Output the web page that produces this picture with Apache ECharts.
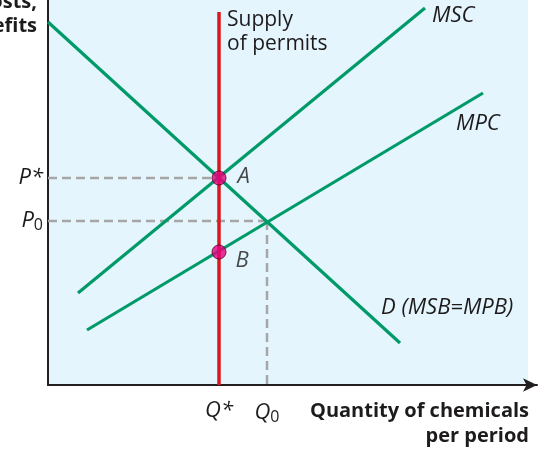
<!DOCTYPE html>
<html>
<head>
<meta charset="utf-8">
<script src="https://cdn.jsdelivr.net/npm/echarts@6/dist/echarts.min.js"></script>
<style>
  html, body { margin: 0; padding: 0; background: #fff; }
  #chart { width: 548px; height: 449px; }
</style>
</head>
<body>
<div id="chart"></div>
<script>
// quantity (x) and cost/benefit (y), arbitrary units
var demand = [[0, 363], [352, 42]];     // D (MSB=MPB)
var msc = [[30, 92], [377, 377]];       // MSC
var mpc = [[39, 55], [435, 292]];       // MPC
var qStar = 171, q0 = 219;
var pStar = 207, p0 = 164, pB = 133;
var supplyTop = 373;
var pointA = [[qStar, pStar]];
var pointB = [[qStar, pB]];
var xTicks = [qStar, q0];
var yTicks = [p0, pStar];

var green = "#009a68";
var red = "#d7191f";
var grey = "#a6a6a6";
var ink = "#1d1b1c";
var font = "'Open Sans', 'Noto Sans', sans-serif";

var myChart = echarts.init(document.getElementById("chart"));

function line(name, data, color, width, type, z) {
	return {
		name: name,
		type: "line",
		data: data,
		symbol: "none",
		z: z,
		silent: true,
		lineStyle: { color: color, width: width, type: type || "solid" }
	};
}

var tickRich = {
	i: { fontSize: 22, fontStyle: "italic", color: ink, fontFamily: font },
	s: { fontSize: 16, color: ink, fontFamily: font, padding: [9, 0, 0, 0] }
};

function label(txt, dx, dy) {
	return {
		show: true, position: "right", distance: 9, offset: [dx, dy], formatter: txt,
		fontSize: 22, fontStyle: "italic", color: ink, fontFamily: font
	};
}

myChart.setOption({
	animation: false,
	textStyle: { fontFamily: font },
	grid: { left: 48, right: 11, top: 0, bottom: 64 },
	graphic: [
		{
			type: "rect",
			z: -10,
			shape: { x: 48, y: 0, width: 480, height: 385 },
			style: { fill: "#e4f5fd" }
		},
		{
			type: "text", x: 227, y: 8, z: 10,
			style: { text: "Supply\nof permits", font: "21px " + font, fill: ink, lineHeight: 24 }
		},
		{
			type: "text", x: 529, y: 399, z: 10,
			style: { text: "Quantity of chemicals\nper period", font: "bold 20px " + font, fill: ink, align: "right", lineHeight: 25 }
		},
		{
			type: "text", x: 37, y: -10, z: 10,
			style: { text: "Costs,\nbenefits", font: "bold 20px " + font, fill: ink, align: "right", lineHeight: 24 }
		},
		{ type: "text", x: 432, y: 5, style: { text: "MSC", font: "italic 22px " + font, fill: ink } },
		{ type: "text", x: 456, y: 113, style: { text: "MPC", font: "italic 22px " + font, fill: ink } },
		{ type: "text", x: 381, y: 297, style: { text: "D (MSB=MPB)", font: "italic 22px " + font, fill: ink } }
	],
	xAxis: {
		type: "value",
		min: 0,
		max: 489,
		splitLine: { show: false },
		axisTick: { show: false },
		axisLine: {
			onZero: false,
			lineStyle: { color: "#231f20", width: 2 },
			symbol: ["none", "arrow"],
			symbolSize: [10, 14]
		},
		axisLabel: {
			customValues: xTicks,
			margin: 15,
			formatter: function (v) {
				return v === qStar ? "{i|Q*}" : "{i|Q}{s|0}";
			},
			rich: tickRich
		}
	},
	yAxis: {
		type: "value",
		min: 0,
		max: 385,
		splitLine: { show: false },
		axisTick: { show: false },
		axisLine: {
			onZero: false,
			lineStyle: { color: "#231f20", width: 2 }
		},
		axisLabel: {
			customValues: yTicks,
			margin: 5,
			formatter: function (v) {
				return v === pStar ? "{i|P*}" : "{i|P}{s|0}";
			},
			rich: tickRich
		}
	},
	series: [
		line("P*", [[0, pStar], [qStar, pStar]], grey, 2.5, [9, 5], 1),
		line("P0", [[0, p0], [q0, p0]], grey, 2.5, [9, 5], 1),
		line("Q0", [[q0, p0], [q0, 0]], grey, 2.5, [9, 5], 1),
		line("D", demand, green, 3.2, null, 2),
		line("MSC", msc, green, 3.2, null, 2),
		line("MPC", mpc, green, 3.2, null, 2),
		line("Supply", [[qStar, 0], [qStar, supplyTop]], red, 3.5, null, 3),
		{
			name: "A",
			type: "scatter",
			data: pointA,
			z: 5,
			symbolSize: 14,
			itemStyle: { color: "#e6007e", borderColor: "#5a0030", borderWidth: 1 },
			label: label("A", 2, -1)
		},
		{
			name: "B",
			type: "scatter",
			data: pointB,
			z: 5,
			symbolSize: 14,
			itemStyle: { color: "#e6007e", borderColor: "#5a0030", borderWidth: 1 },
			label: label("B", 0, 9)
		}
	]
});
</script>
</body>
</html>
